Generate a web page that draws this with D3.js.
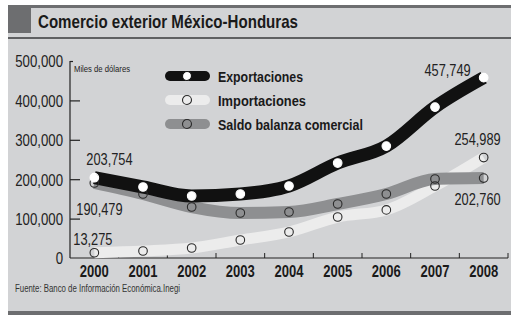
<!DOCTYPE html>
<html>
<head>
<meta charset="utf-8">
<script src="https://cdn.jsdelivr.net/npm/d3@7"></script>
<style>
  html, body { margin: 0; padding: 0; background: #fff; }
  svg { display: block; }
  text { font-family: "Liberation Sans", Arial, sans-serif; }
</style>
</head>
<body>
<div id="viz"></div>
<script>
const years = [2000, 2001, 2002, 2003, 2004, 2005, 2006, 2007, 2008];
const exportaciones = [203754, 180200, 157400, 162400, 182700, 241000, 284000, 383000, 457749];
const importaciones = [13275, 17800, 25400, 45700, 66000, 104000, 122000, 182700, 254989];
const saldo = [190479, 162400, 129400, 114200, 116800, 137000, 162400, 200500, 202760];
const yTicks = [0, 100000, 200000, 300000, 400000, 500000];
const seriesNames = ['Exportaciones', 'Importaciones', 'Saldo balanza comercial'];

const W = 511, H = 315;
const svg = d3.select('#viz').append('svg').attr('width', W).attr('height', H);

// squeeze text to a condensed look
function squeeze(sel, f) {
  sel.each(function() {
    const w = this.getComputedTextLength();
    this.setAttribute('textLength', w * f);
    this.setAttribute('lengthAdjust', 'spacingAndGlyphs');
  });
}

// panel
svg.append('rect').attr('x', 8).attr('y', 5).attr('width', W - 8).attr('height', 308).attr('fill', '#d2d3d5');
svg.append('rect').attr('x', 8).attr('y', 5).attr('width', W - 8).attr('height', 3).attr('fill', '#6d6e70');
svg.append('rect').attr('x', 8).attr('y', 5).attr('width', 23).attr('height', 28).attr('fill', '#6d6e70');
svg.append('rect').attr('x', 8).attr('y', 37).attr('width', W - 8).attr('height', 2).attr('fill', '#5f6062');
svg.append('rect').attr('x', 8).attr('y', 311).attr('width', W - 8).attr('height', 4).attr('fill', '#6d6e70');
svg.append('text').attr('x', 38).attr('y', 27.5)
  .attr('font-size', 19).attr('font-weight', 'bold').attr('fill', '#1a1a1a')
  .text('Comercio exterior México-Honduras')
  .attr('textLength', 260).attr('lengthAdjust', 'spacingAndGlyphs');

const x = d3.scaleBand().domain(years).range([70, 508]);
const cx = d => x(d) + x.bandwidth() / 2;
const y = d3.scaleLinear().domain([0, 500000]).range([258, 61]);

// y axis
const yAxis = svg.append('g').attr('transform', 'translate(70,0)')
  .call(d3.axisLeft(y).tickValues(yTicks).tickSize(-10).tickPadding(7)
    .tickFormat(d => d === 0 ? '0' : d3.format(',')(d)));
yAxis.select('.domain').remove();
yAxis.selectAll('.tick line').attr('stroke', '#222').attr('stroke-width', 1.2)
  .attr('x2', d => d === 500000 ? 3 : (d === 0 ? 0 : 10));
yAxis.selectAll('.tick text').attr('font-size', 16.5).attr('fill', '#222').attr('dy', '0.36em')
  .call(squeeze, 0.8);
svg.append('line').attr('x1', 70).attr('x2', 70).attr('y1', 61).attr('y2', 258)
  .attr('stroke', '#222').attr('stroke-width', 1.2);
svg.append('text').attr('x', 74).attr('y', 72).attr('font-size', 9).attr('fill', '#222')
  .text('Miles de dólares').attr('textLength', 56).attr('lengthAdjust', 'spacingAndGlyphs');

// x axis
svg.append('line').attr('x1', 70).attr('x2', 508).attr('y1', 258).attr('y2', 258)
  .attr('stroke', '#222').attr('stroke-width', 1.2);
svg.append('g').selectAll('line').data(years).join('line')
  .attr('x1', d => x(d) + x.bandwidth()).attr('x2', d => x(d) + x.bandwidth())
  .attr('y1', 253).attr('y2', 258).attr('stroke', '#222').attr('stroke-width', 1);
svg.append('g').selectAll('text').data(years).join('text')
  .attr('x', d => cx(d)).attr('y', 277).attr('text-anchor', 'middle')
  .attr('font-size', 16.5).attr('font-weight', 'bold').attr('fill', '#1a1a1a').text(d => d)
  .attr('textLength', 29).attr('lengthAdjust', 'spacingAndGlyphs');

svg.append('text').attr('x', 15).attr('y', 291.5).attr('font-size', 10).attr('fill', '#333')
  .text('Fuente: Banco de Información Económica.Inegi')
  .attr('textLength', 165).attr('lengthAdjust', 'spacingAndGlyphs');

// lines
const line = d3.line().x((d, i) => cx(years[i])).y(d => y(d)).curve(d3.curveMonotoneX);
const series = [
  {name: seriesNames[1], values: importaciones, stroke: '#ececec', width: 11, fill: 'none', ring: '#2a2a2a'},
  {name: seriesNames[2], values: saldo, stroke: '#8e8f91', width: 12, fill: 'none', ring: '#2a2a2a'},
  {name: seriesNames[0], values: exportaciones, stroke: '#111', width: 13, fill: '#fff', ring: '#fff'}
];
series.forEach(s => {
  svg.append('path').datum(s.values).attr('d', line).attr('fill', 'none')
    .attr('stroke', s.stroke).attr('stroke-width', s.width);
});
series.forEach(s => {
  svg.append('g').selectAll('circle').data(s.values).join('circle')
    .attr('cx', (d, i) => cx(years[i])).attr('cy', d => y(d)).attr('r', 4.3)
    .attr('fill', s.fill).attr('stroke', s.ring).attr('stroke-width', 1.1);
});

// legend
const legend = [
  {name: seriesNames[0], stroke: '#111', fill: '#fff', ring: '#111', w: 85},
  {name: seriesNames[1], stroke: '#ececec', fill: 'none', ring: '#2a2a2a', w: 88},
  {name: seriesNames[2], stroke: '#8e8f91', fill: 'none', ring: '#2a2a2a', w: 145}
];
const lg = svg.append('g').selectAll('g').data(legend).join('g')
  .attr('transform', (d, i) => `translate(0,${76 + i * 24})`);
lg.append('line').attr('x1', 170).attr('x2', 205).attr('stroke', d => d.stroke)
  .attr('stroke-width', 10).attr('stroke-linecap', 'round');
lg.append('circle').attr('cx', 187).attr('r', 4.5).attr('fill', d => d.fill)
  .attr('stroke', d => d.ring).attr('stroke-width', 1.1);
lg.append('text').attr('x', 218).attr('y', 5.5).attr('font-size', 15.5).attr('font-weight', 'bold')
  .attr('fill', '#1a1a1a').text(d => d.name)
  .attr('textLength', d => d.w).attr('lengthAdjust', 'spacingAndGlyphs');

// value labels (left ones anchored at start, right ones at end)
const labels = [
  {v: exportaciones[0], x: years[0], dx: -8, dy: -13, a: 'start'},
  {v: saldo[0], x: years[0], dx: -18, dy: 32, a: 'start'},
  {v: importaciones[0], x: years[0], dx: -21, dy: -8, a: 'start'},
  {v: exportaciones[8], x: years[8], dx: -13, dy: -2, a: 'end'},
  {v: importaciones[8], x: years[8], dx: 17, dy: -13, a: 'end'},
  {v: saldo[8], x: years[8], dx: 17, dy: 27, a: 'end'}
];
svg.append('g').selectAll('text').data(labels).join('text')
  .attr('x', d => cx(d.x) + d.dx).attr('y', d => y(d.v) + d.dy)
  .attr('text-anchor', d => d.a)
  .attr('font-size', 16).attr('fill', '#222').text(d => d3.format(',')(d.v))
  .call(squeeze, 0.8);
</script>
</body>
</html>
